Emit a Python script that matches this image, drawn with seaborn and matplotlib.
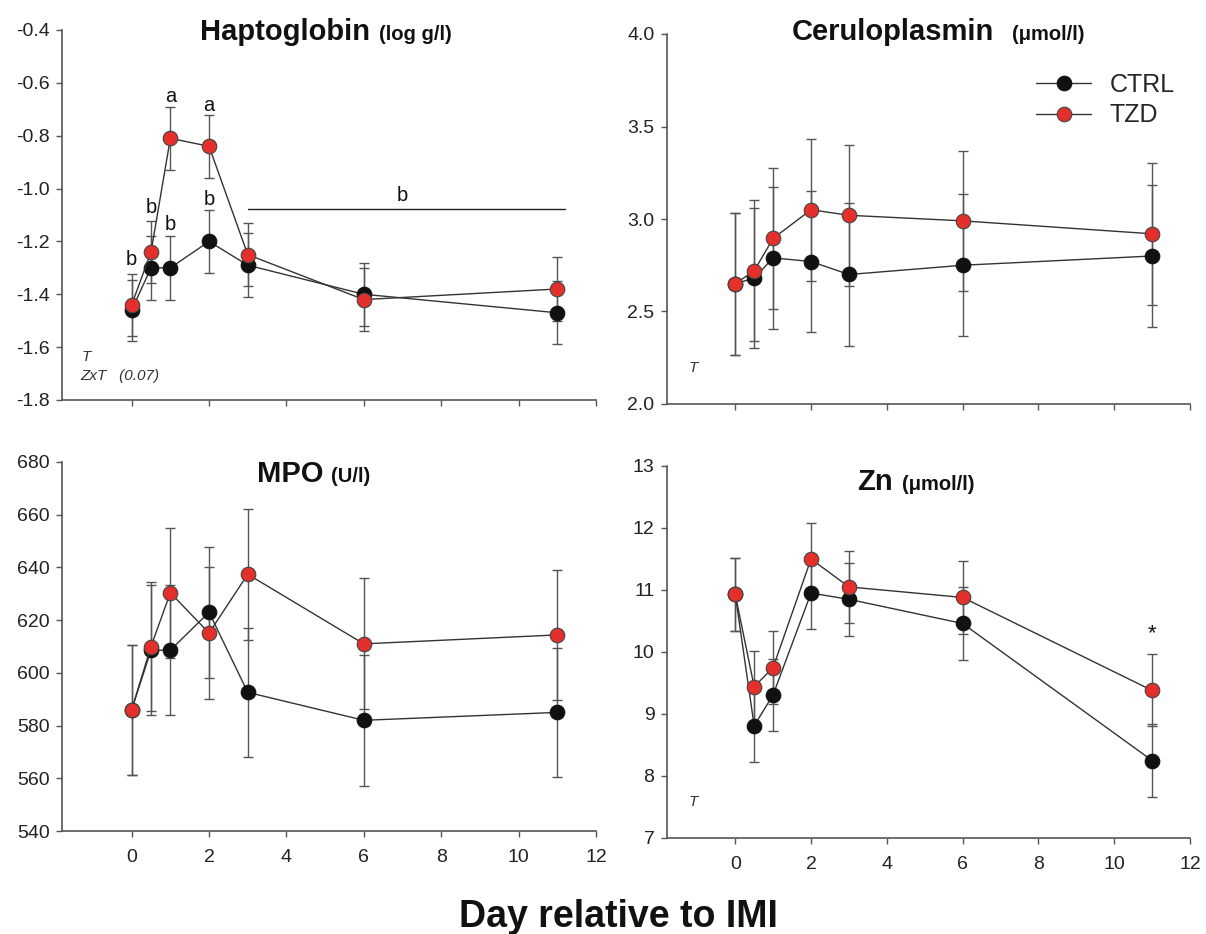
import matplotlib
matplotlib.use("Agg")
import matplotlib.pyplot as plt
from matplotlib.lines import Line2D
import seaborn as sns
import pandas as pd

# ---------------- data ----------------
days = [0, 0.5, 1, 2, 3, 6, 11]
groups = ["CTRL", "TZD"]

hapto_ctrl = [-1.46, -1.30, -1.30, -1.20, -1.29, -1.40, -1.47]
hapto_tzd = [-1.44, -1.24, -0.81, -0.84, -1.25, -1.42, -1.38]
hapto_ctrl_se = [0.115, 0.12, 0.12, 0.12, 0.12, 0.12, 0.12]
hapto_tzd_se = [0.118, 0.118, 0.12, 0.12, 0.12, 0.12, 0.12]

cerulo_ctrl = [2.65, 2.68, 2.79, 2.77, 2.70, 2.75, 2.80]
cerulo_tzd = [2.65, 2.72, 2.895, 3.05, 3.02, 2.99, 2.92]
cerulo_ctrl_se = [0.385, 0.38, 0.385, 0.38, 0.385, 0.385, 0.385]
cerulo_tzd_se = [0.385, 0.38, 0.38, 0.385, 0.38, 0.38, 0.385]

mpo_ctrl = [586.0, 608.6, 608.6, 623.0, 592.6, 582.0, 585.0]
mpo_tzd = [586.0, 610.0, 630.4, 615.1, 637.4, 611.0, 614.4]
mpo_ctrl_se = [24.6, 24.6, 24.6, 24.9, 24.6, 24.8, 24.6]
mpo_tzd_se = [24.6, 24.6, 24.6, 24.9, 24.8, 24.8, 24.6]

zn_ctrl = [10.93, 8.81, 9.31, 10.95, 10.85, 10.46, 8.25]
zn_tzd = [10.93, 9.44, 9.75, 11.50, 11.05, 10.88, 9.38]
zn_ctrl_se = [0.585, 0.59, 0.58, 0.585, 0.59, 0.585, 0.59]
zn_tzd_se = [0.585, 0.58, 0.59, 0.583, 0.58, 0.59, 0.58]

x_ticks = [0, 2, 4, 6, 8, 10, 12]
x_ticklabels = ["0", "2", "4", "6", "8", "10", "12"]

hapto_yticks = [-1.8, -1.6, -1.4, -1.2, -1.0, -0.8, -0.6, -0.4]
hapto_yticklabels = ["-1.8", "-1.6", "-1.4", "-1.2", "-1.0", "-0.8", "-0.6", "-0.4"]
cerulo_yticks = [2.0, 2.5, 3.0, 3.5, 4.0]
cerulo_yticklabels = ["2.0", "2.5", "3.0", "3.5", "4.0"]
mpo_yticks = [540, 560, 580, 600, 620, 640, 660, 680]
mpo_yticklabels = ["540", "560", "580", "600", "620", "640", "660", "680"]
zn_yticks = [7, 8, 9, 10, 11, 12, 13]
zn_yticklabels = ["7", "8", "9", "10", "11", "12", "13"]

# significance letters in haptoglobin panel: (text, day, value)
hapto_letters = [("b", 0, -1.27), ("b", 0.5, -1.07), ("b", 1, -1.135),
                 ("a", 1, -0.65), ("a", 2, -0.685), ("b", 2, -1.04),
                 ("b", 7, -1.025)]
hapto_bar = (3.0, 11.2, -1.078)

# ---------------- style ----------------
sns.set_style("ticks")
plt.rcParams["font.family"] = ["Liberation Sans", "DejaVu Sans"]
plt.rcParams["axes.unicode_minus"] = False

RED = "#E3302A"
BLACK = "#111111"
LINE = "#333333"
ERR = "#555555"
SPINE = "#555555"

fig = plt.figure(figsize=(12.06, 9.34), dpi=100)

W, H = 1206.0, 934.0
def pos(x0, x1, ytop, ybot):
    return [x0 / W, 1 - ybot / H, (x1 - x0) / W, (ybot - ytop) / H]

ax_h = fig.add_axes(pos(62, 596, 30, 400))
ax_c = fig.add_axes(pos(667, 1190, 34, 404))
ax_m = fig.add_axes(pos(62, 596, 462, 831))
ax_z = fig.add_axes(pos(667, 1190, 466, 838))

panels = [
    (ax_h, hapto_ctrl, hapto_ctrl_se, hapto_tzd, hapto_tzd_se, (-1.8, -0.4),
     hapto_yticks, hapto_yticklabels, False),
    (ax_c, cerulo_ctrl, cerulo_ctrl_se, cerulo_tzd, cerulo_tzd_se, (2.0, 4.0),
     cerulo_yticks, cerulo_yticklabels, False),
    (ax_m, mpo_ctrl, mpo_ctrl_se, mpo_tzd, mpo_tzd_se, (540, 680),
     mpo_yticks, mpo_yticklabels, True),
    (ax_z, zn_ctrl, zn_ctrl_se, zn_tzd, zn_tzd_se, (7, 13),
     zn_yticks, zn_yticklabels, True),
]

MS = 10.5
for ax, c, cse, t, tse, ylim, yt, ytl, show_x in panels:
    for vals, se, face, edge, z in [(c, cse, BLACK, BLACK, 3), (t, tse, RED, "#444444", 4)]:
        ax.errorbar(days, vals, yerr=se, fmt="none", ecolor=ERR, elinewidth=1.0,
                    capsize=3.9, capthick=1.0, zorder=1)
        df = pd.DataFrame({"day": days, "value": vals})
        sns.lineplot(data=df, x="day", y="value", ax=ax, color=LINE, linewidth=1.0,
                     marker="o", markersize=MS, markerfacecolor=face,
                     markeredgecolor=edge, markeredgewidth=0.8, zorder=z,
                     legend=False)
    ax.set_xlim(-1.8, 12)
    ax.set_ylim(*ylim)
    ax.set_xticks(x_ticks)
    ax.set_yticks(yt)
    ax.set_yticklabels(ytl)
    if show_x:
        ax.set_xticklabels(x_ticklabels)
    else:
        ax.set_xticklabels([])
    ax.set_xlabel("")
    ax.set_ylabel("")
    for s in ["top", "right"]:
        ax.spines[s].set_visible(False)
    for s in ["left", "bottom"]:
        ax.spines[s].set_color(SPINE)
        ax.spines[s].set_linewidth(1.2)
    ax.tick_params(axis="both", direction="out", length=4, width=1.0, color=SPINE,
                   labelsize=14, labelcolor="#222222", pad=5)
    ax.tick_params(axis="x", pad=9)
    ax.patch.set_alpha(0)

# ---------------- titles ----------------
def title(ax, main, unit, x, y, gap=4):
    tm = ax.text(x, y, main, transform=ax.transAxes, fontsize=21, fontweight="bold",
                 ha="left", va="baseline", color="#111111")
    ax.annotate(unit, xy=(1, y), xycoords=(tm, "axes fraction"), xytext=(gap, 0),
                textcoords="offset points", fontsize=14.5, fontweight="bold",
                ha="left", va="baseline", color="#111111")

title(ax_h, "Haptoglobin", "(log g/l)", 0.258, 0.972, gap=7)
title(ax_c, "Ceruloplasmin", "(\u03bcmol/l)", 0.239, 0.983, gap=13)
title(ax_m, "MPO", "(U/l)", 0.365, 0.946, gap=5.5)
title(ax_z, "Zn", "(\u03bcmol/l)", 0.363, 0.935, gap=6.5)

# ---------------- annotations ----------------
for txt, xx, yy in hapto_letters:
    ax_h.text(xx, yy, txt, fontsize=14.5, ha="center", va="center", color="#111111")
ax_h.plot([hapto_bar[0], hapto_bar[1]], [hapto_bar[2], hapto_bar[2]],
          color="#222222", lw=1.0)

ax_h.text(-1.28, -1.636, "T", fontsize=11, style="italic", color="#333333",
          ha="left", va="center")
ax_h.text(-1.33, -1.711, "ZxT   (0.07)", fontsize=11, style="italic",
          color="#333333", ha="left", va="center")
ax_c.text(-1.23, 2.194, "T", fontsize=11, style="italic", color="#333333",
          ha="left", va="center")
ax_z.text(-1.24, 7.58, "T", fontsize=11, style="italic", color="#333333",
          ha="left", va="center")
ax_z.text(11.0, 10.30, "*", fontsize=16, ha="center", va="center", color="#111111")

# ---------------- legend ----------------
handles = [
    Line2D([], [], color=LINE, lw=1.0, marker="o", markersize=MS,
           markerfacecolor=BLACK, markeredgecolor=BLACK, markeredgewidth=0.8),
    Line2D([], [], color=LINE, lw=1.0, marker="o", markersize=MS,
           markerfacecolor=RED, markeredgecolor="#444444", markeredgewidth=0.8),
]
ax_c.legend(handles, groups, loc="upper right", bbox_to_anchor=(1.0, 0.935),
            frameon=False, fontsize=18, handlelength=2.2, handletextpad=0.75,
            labelspacing=0.25, borderaxespad=0.2)

fig.text(618 / W, 1 - 917 / H, "Day relative to IMI", fontsize=27,
         fontweight="bold", ha="center", va="center", color="#111111")

fig.savefig("out.png", dpi=100)
